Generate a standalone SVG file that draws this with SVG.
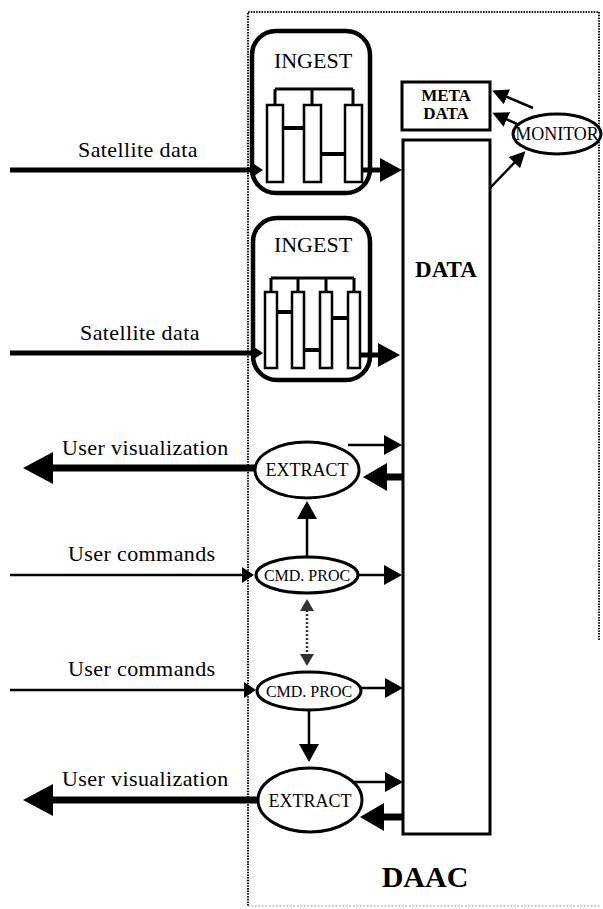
<svg xmlns="http://www.w3.org/2000/svg" width="603" height="909" viewBox="0 0 603 909">
<style>
text{font-family:"Liberation Serif","Times New Roman",serif;fill:#000}
.lbl{font-size:22px;letter-spacing:0.4px}
.ttl{font-size:22px;text-anchor:middle}
.nd{font-size:18px;text-anchor:middle}
.cmd{font-size:16px;text-anchor:middle}
.b{font-weight:bold;text-anchor:middle}
.frame{fill:#fff;stroke:#000;stroke-width:4.5}
.bar{fill:#fff;stroke:#000;stroke-width:2.5}
.tree{fill:none;stroke:#000;stroke-width:3}
.hx{fill:none;stroke:#000;stroke-width:4}
.ell{fill:#fff;stroke:#000;stroke-width:3}
.box{fill:#fff;stroke:#000;stroke-width:3}
.thin{stroke:#000;stroke-width:2.5;fill:none}
.med{stroke:#000;stroke-width:5;fill:none}
.thick{stroke:#000;stroke-width:7;fill:none}
.dot{fill:none;stroke:#111;stroke-width:2;stroke-dasharray:1.5 1.2}
.dlink{fill:none;stroke:#333;stroke-width:2.5;stroke-dasharray:2 2}
</style>
<defs>
<marker id="ah" markerUnits="userSpaceOnUse" markerWidth="18" markerHeight="20" refX="1" refY="10" orient="auto"><path d="M0,0 L18,10 L0,20 z"/></marker>
<marker id="ak" markerUnits="userSpaceOnUse" markerWidth="16" markerHeight="16" refX="1" refY="8" orient="auto"><path d="M0,0 L16,8 L0,16 z"/></marker>
<marker id="am" markerUnits="userSpaceOnUse" markerWidth="22" markerHeight="24" refX="1" refY="12" orient="auto"><path d="M0,0 L22,12 L0,24 z"/></marker>
<marker id="ab" markerUnits="userSpaceOnUse" markerWidth="24" markerHeight="28" refX="1" refY="14" orient="auto"><path d="M0,0 L24,14 L0,28 z"/></marker>
<marker id="av" markerUnits="userSpaceOnUse" markerWidth="30" markerHeight="32" refX="1" refY="16" orient="auto"><path d="M0,0 L30,16 L0,32 z"/></marker>
<marker id="as" markerUnits="userSpaceOnUse" markerWidth="12" markerHeight="16" refX="1" refY="8" orient="auto"><path d="M0,0 L12,8 L0,16 z"/></marker>
<marker id="ad" markerUnits="userSpaceOnUse" markerWidth="12" markerHeight="14" refX="1" refY="7" orient="auto-start-reverse"><path d="M0,0 L12,7 L0,14 z" fill="#333"/></marker>
</defs>

<g id="daac">
<path class="dot" d="M599,640 L599,12 L248,12 L248,906"/>
<path d="M248,906 L600,906" fill="none" stroke="#888" stroke-width="1.2" stroke-dasharray="1.5 2"/>
<text class="b" x="425" y="887" font-size="30">DAAC</text>
</g>

<g id="data">
<rect class="box" x="403" y="140" width="87" height="694"/>
<text class="b" x="446" y="277" font-size="23">DATA</text>
</g>

<g id="metadata">
<rect class="box" x="402" y="82" width="88" height="48"/>
<text class="b" x="446" y="101" font-size="17">META</text>
<text class="b" x="446" y="119" font-size="17">DATA</text>
</g>

<g id="monitor">
<ellipse class="ell" cx="557" cy="134" rx="44" ry="20"/>
<text class="nd" x="557" y="140" font-size="16">MONITOR</text>
</g>

<g id="ingest1">
<rect class="frame" x="252" y="31" width="118" height="162" rx="24"/>
<text class="ttl" x="313" y="68">INGEST</text>
<path class="tree" d="M275,89 L353,89 M275,89 L275,105 M312,89 L312,105 M353,89 L353,105"/>
<rect class="bar" x="267" y="105" width="16" height="77"/>
<rect class="bar" x="304" y="105" width="17" height="77"/>
<rect class="bar" x="345" y="105" width="17" height="77"/>
<path class="hx" d="M283,128 L304,128 M321,154 L345,154"/>
</g>

<g id="ingest2">
<rect class="frame" x="253" y="218" width="117" height="162" rx="24"/>
<text class="ttl" x="313" y="252">INGEST</text>
<path class="tree" d="M271,278 L354,278 M271,278 L271,292 M298,278 L298,292 M326,278 L326,292 M354,278 L354,292"/>
<rect class="bar" x="265" y="292" width="12" height="76"/>
<rect class="bar" x="292" y="292" width="12" height="76"/>
<rect class="bar" x="320" y="292" width="12" height="76"/>
<rect class="bar" x="348" y="292" width="12" height="76"/>
<path class="hx" d="M277,312 L292,312 M304,350 L320,350 M332,318 L348,318"/>
</g>

<g id="extract1">
<ellipse class="ell" cx="307" cy="470" rx="52" ry="28"/>
<text class="nd" x="307" y="476">EXTRACT</text>
</g>
<g id="cmdproc1">
<ellipse class="ell" cx="307" cy="575" rx="51" ry="18"/>
<text class="cmd" x="307" y="581">CMD. PROC</text>
</g>
<g id="cmdproc2">
<ellipse class="ell" cx="309" cy="691" rx="52" ry="19"/>
<text class="cmd" x="309" y="697">CMD. PROC</text>
</g>
<g id="extract2">
<ellipse class="ell" cx="310" cy="800" rx="52" ry="32"/>
<text class="nd" x="310" y="807">EXTRACT</text>
</g>

<g id="connectors">
<line class="med" x1="10" y1="170" x2="252" y2="170" marker-end="url(#as)"/>
<text class="lbl" x="78" y="157">Satellite data</text>
<line class="med" x1="362" y1="170" x2="381" y2="170" marker-end="url(#am)"/>

<line class="med" x1="10" y1="353" x2="252" y2="353" marker-end="url(#as)"/>
<text class="lbl" x="80" y="340">Satellite data</text>
<line class="med" x1="360" y1="355" x2="379" y2="355" marker-end="url(#am)"/>

<line class="thin" x1="533" y1="108" x2="506" y2="96.5" marker-end="url(#ak)"/>
<line class="thin" x1="517" y1="124" x2="506" y2="119" marker-end="url(#ak)"/>
<line class="thin" x1="490" y1="188" x2="515" y2="162" marker-end="url(#ak)"/>

<line class="thick" x1="255" y1="468" x2="52" y2="468" marker-end="url(#av)"/>
<text class="lbl" x="62" y="455">User visualization</text>
<line class="thin" x1="348" y1="445" x2="385" y2="445" marker-end="url(#ah)"/>
<line class="thick" x1="404" y1="477" x2="386" y2="477" marker-end="url(#ab)"/>

<line class="thin" x1="307" y1="557" x2="307" y2="518" marker-end="url(#ah)"/>
<line class="thin" x1="358" y1="575" x2="385" y2="575" marker-end="url(#ah)"/>
<line class="thin" x1="10" y1="575" x2="243" y2="575" marker-end="url(#as)"/>
<text class="lbl" x="68" y="561">User commands</text>

<line class="dlink" x1="307" y1="610" x2="307" y2="655" marker-start="url(#ad)" marker-end="url(#ad)"/>

<line class="thin" x1="10" y1="690" x2="245" y2="690" marker-end="url(#as)"/>
<text class="lbl" x="68" y="676">User commands</text>
<line class="thin" x1="361" y1="688" x2="386" y2="688" marker-end="url(#ah)"/>
<line class="thin" x1="309" y1="710" x2="309" y2="745" marker-end="url(#ah)"/>

<line class="thin" x1="352" y1="782" x2="386" y2="782" marker-end="url(#ah)"/>
<line class="thick" x1="404" y1="817" x2="383" y2="817" marker-end="url(#ab)"/>
<line class="thick" x1="258" y1="800" x2="52" y2="800" marker-end="url(#av)"/>
<text class="lbl" x="62" y="786">User visualization</text>
</g>
</svg>
